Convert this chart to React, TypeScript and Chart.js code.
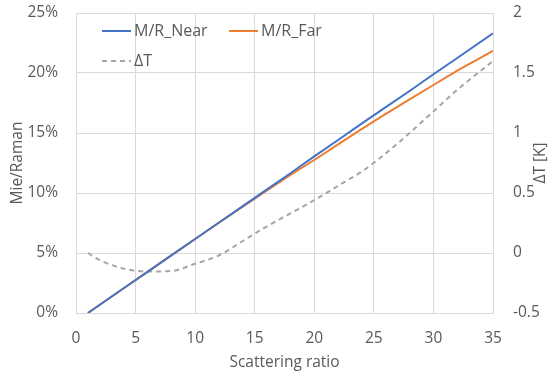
import React, { useEffect, useRef } from "react";
import { Chart, registerables } from "chart.js";

Chart.register(...registerables);

const scatteringRatio = [1, 2, 4, 6, 8, 10, 12, 14, 16, 18, 20, 22, 24, 26, 28, 30, 32, 35];
const mrNear = [0, 0.69, 2.06, 3.43, 4.8, 6.17, 7.54, 8.91, 10.28, 11.65, 13.05, 14.42, 15.8, 17.15, 18.5, 19.9, 21.25, 23.3];
const mrFar = [0, 0.69, 2.06, 3.43, 4.8, 6.17, 7.52, 8.87, 10.2, 11.5, 12.75, 14.05, 15.35, 16.6, 17.8, 19.0, 20.2, 21.85];
const deltaT = [0, -0.06, -0.13, -0.155, -0.15, -0.09, -0.02, 0.1, 0.22, 0.33, 0.44, 0.56, 0.68, 0.83, 1.0, 1.18, 1.36, 1.6];
const seriesNames = ["M/R_Near", "M/R_Far", "ΔT"];
const xTitle = "Scattering ratio";
const yLeftTitle = "Mie/Raman";
const yRightTitle = "ΔT [K]";

const FONT = "'Open Sans', sans-serif";
const TEXT = "#595959";
const GRID = "#d9d9d9";
const COLORS = ["#4472C4", "#ED7D31", "#A5A5A5"];
const FS = 15.5;

const legendPlugin = {
  id: "innerLegend",
  afterDraw(chart: any) {
    const ctx = chart.ctx;
    const a = chart.chartArea;
    ctx.save();
    ctx.font = `16px ${FONT}`;
    ctx.fillStyle = TEXT;
    ctx.textBaseline = "middle";
    const items = [
      { x: a.left + 26, y: a.top + 18, i: 0 },
      { x: a.left + 153, y: a.top + 18, i: 1 },
      { x: a.left + 26, y: a.top + 48, i: 2 },
    ];
    items.forEach(({ x, y, i }) => {
      ctx.strokeStyle = COLORS[i];
      ctx.lineWidth = 2;
      ctx.setLineDash(i === 2 ? [5, 4] : []);
      ctx.beginPath();
      ctx.moveTo(x, y);
      ctx.lineTo(x + 29, y);
      ctx.stroke();
      ctx.setLineDash([]);
      ctx.fillText(seriesNames[i], x + 32, y);
    });
    // right axis title, reading bottom to top
    ctx.font = `${FS}px ${FONT}`;
    ctx.textAlign = "center";
    ctx.translate(541, (a.top + a.bottom) / 2);
    ctx.rotate(-Math.PI / 2);
    ctx.fillText(yRightTitle, 0, 0);
    ctx.restore();
  },
};

export default function App() {
  const ref = useRef<HTMLCanvasElement>(null);
  useEffect(() => {
    document.body.style.margin = "0";
    const mk = (vals: number[]) => scatteringRatio.map((x, i) => ({ x, y: vals[i] }));
    const chart = new Chart(ref.current!, {
      type: "line",
      data: {
        datasets: [
          { label: seriesNames[0], data: mk(mrNear), borderColor: COLORS[0], borderWidth: 2, pointRadius: 0, yAxisID: "y" },
          { label: seriesNames[1], data: mk(mrFar), borderColor: COLORS[1], borderWidth: 2, pointRadius: 0, yAxisID: "y" },
          { label: seriesNames[2], data: mk(deltaT), borderColor: COLORS[2], borderWidth: 2, borderDash: [5, 4], pointRadius: 0, yAxisID: "y1", cubicInterpolationMode: "monotone" },
        ],
      },
      options: {
        responsive: false,
        animation: false,
        layout: { padding: { top: 13, left: 0, right: 0, bottom: 0 } },
        plugins: { legend: { display: false }, tooltip: { enabled: false } },
        scales: {
          x: {
            type: "linear",
            min: 0,
            max: 35,
            ticks: { stepSize: 5, color: TEXT, font: { family: FONT, size: FS }, padding: 16 },
            grid: { color: GRID, drawTicks: false },
            border: { color: GRID },
            title: { display: true, text: xTitle, color: TEXT, font: { family: FONT, size: FS }, padding: { top: 0, bottom: 4 } },
            afterFit: (s: any) => { s.height = 63; s.paddingLeft = 0; s.paddingRight = 0; },
          },
          y: {
            position: "left",
            min: 0,
            max: 25,
            ticks: { stepSize: 5, color: TEXT, font: { family: FONT, size: FS }, padding: 18, callback: (v: any) => v + "%" },
            grid: { color: GRID, drawTicks: false },
            border: { color: GRID },
            title: { display: true, text: yLeftTitle, color: TEXT, font: { family: FONT, size: FS }, padding: { top: 8, bottom: 0 } },
            afterFit: (s: any) => { s.width = 76; s.paddingTop = 0; s.paddingBottom = 0; },
          },
          y1: {
            position: "right",
            min: -0.5,
            max: 2,
            ticks: { stepSize: 0.5, color: TEXT, font: { family: FONT, size: FS }, padding: 20, callback: (v: any) => String(Number(v)) },
            grid: { display: false, drawTicks: false },
            border: { display: false },
            title: { display: false },
            afterFit: (s: any) => { s.width = 67; s.paddingTop = 0; s.paddingBottom = 0; },
          },
        },
      },
      plugins: [legendPlugin],
    });
    return () => chart.destroy();
  }, []);
  return (
    <div style={{ position: "absolute", left: 0, top: 0, width: 560, height: 376, background: "#fff" }}>
      <canvas ref={ref} width={560} height={376} />
    </div>
  );
}
